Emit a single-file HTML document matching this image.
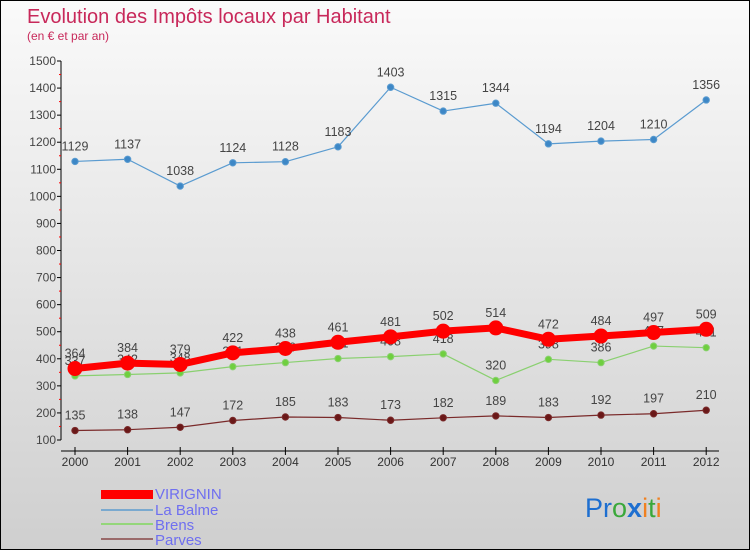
<!DOCTYPE html>
<html><head><meta charset="utf-8"><style>
html,body{margin:0;padding:0}
body{width:750px;height:550px;overflow:hidden;font-family:"Liberation Sans",sans-serif}
#wrap{position:relative;width:748px;height:548px;border:1px solid #000;background:linear-gradient(#fafafa,#cfcfcf)}
</style></head><body>
<div id="wrap">
<svg id="chart" width="748" height="548" style="position:absolute;left:0;top:0">
<text x="26" y="22" font-size="20" fill="#c8285a">Evolution des Impôts locaux par Habitant</text>
<text x="26" y="39" font-size="12" fill="#c8285a">(en € et par an)</text>
<g id="axes"></g><g id="series"></g>
<g font-size="15" fill="#6f6ff0">
<rect x="100" y="489" width="52" height="9" fill="#f00"/>
<text x="154" y="498">VIRIGNIN</text>
<rect x="100" y="508" width="52" height="2" fill="#7aa9cf"/>
<text x="154" y="514">La Balme</text>
<rect x="100" y="522" width="52" height="2" fill="#94d67a"/>
<text x="154" y="529">Brens</text>
<rect x="100" y="537" width="52" height="2" fill="#9a6a6a"/>
<text x="154" y="544">Parves</text>
</g>
<text x="584" y="516" font-size="27"><tspan fill="#1e6fd0">Pr</tspan><tspan fill="#3aa83a">o</tspan><tspan fill="#1e6fd0" font-weight="bold">x</tspan><tspan fill="#f08020">i</tspan><tspan fill="#3aa83a">t</tspan><tspan fill="#f08020">i</tspan></text>
</svg>
</div>
<script>
const years=[2000,2001,2002,2003,2004,2005,2006,2007,2008,2009,2010,2011,2012];
const yTicks=[100,200,300,400,500,600,700,800,900,1000,1100,1200,1300,1400,1500];
const virignin=[364,384,379,422,438,461,481,502,514,472,484,497,509];
const laBalme=[1129,1137,1038,1124,1128,1183,1403,1315,1344,1194,1204,1210,1356];
const brens=[337,342,348,371,386,401,408,418,320,398,386,447,441];
const parves=[135,138,147,172,185,183,173,182,189,183,192,197,210];
const NS="http://www.w3.org/2000/svg";
function xs(i){return 74+i*52.6;}
function ys(v){return 439-(v-100)*(379/1400);}
function mk(t,a,p){const e=document.createElementNS(NS,t);for(const k in a)e.setAttribute(k,a[k]);p.appendChild(e);return e;}
const ax=document.getElementById('axes');
const yl=mk('line',{x1:60,y1:ys(1500),x2:60,y2:ys(100),stroke:'#000'},ax);


yTicks.forEach(v=>{
 mk('line',{x1:56,x2:60,y1:ys(v),y2:ys(v),stroke:'#000'},ax);
 if(v<1500)mk('line',{x1:58,x2:60,y1:ys(v+50),y2:ys(v+50),stroke:'#f00'},ax);
 const t=mk('text',{x:55,y:ys(v)+4,'text-anchor':'end','font-size':12,fill:'#444'},ax);
 t.textContent=v;
 
 
});
const xl=mk('line',{x1:60,y1:450,x2:718,y2:450,stroke:'#000'},ax);


years.forEach((y,i)=>{
 mk('line',{x1:xs(i),x2:xs(i),y1:446,y2:454,stroke:'#000'},ax);
 const t=mk('text',{x:xs(i),y:465,'text-anchor':'middle','font-size':12,fill:'#333'},ax);
 t.textContent=y;
 
 
});
const sg=document.getElementById('series');
function draw(vals,name,col,dot,w,r){
 const g=mk('g',{},sg);
 
 
 const pl=mk('polyline',{points:vals.map((v,i)=>xs(i)+','+ys(v)).join(' '),fill:'none',stroke:col,'stroke-width':w,'stroke-linejoin':'round'},g);
 
 
 vals.forEach((v,i)=>{
  const c=mk('circle',{cx:xs(i),cy:ys(v),r:r,fill:dot,stroke:col,'stroke-width':1},g);
  
  
  const t=mk('text',{x:xs(i),y:ys(v)-11,'text-anchor':'middle','font-size':12.5,fill:'#444'},g);
  t.textContent=v;
  
  
 });
}
draw(laBalme,'la-balme','#5a9bd0','#3d87c6',1.2,3.2);
draw(parves,'parves','#7a2a2a','#6a1818',1.2,3.2);
draw(brens,'brens','#8ad070','#6fcf3f',1.2,3.2);
draw(virignin,'virignin','#f00','#f00',7,7);
</script>
</body></html>
